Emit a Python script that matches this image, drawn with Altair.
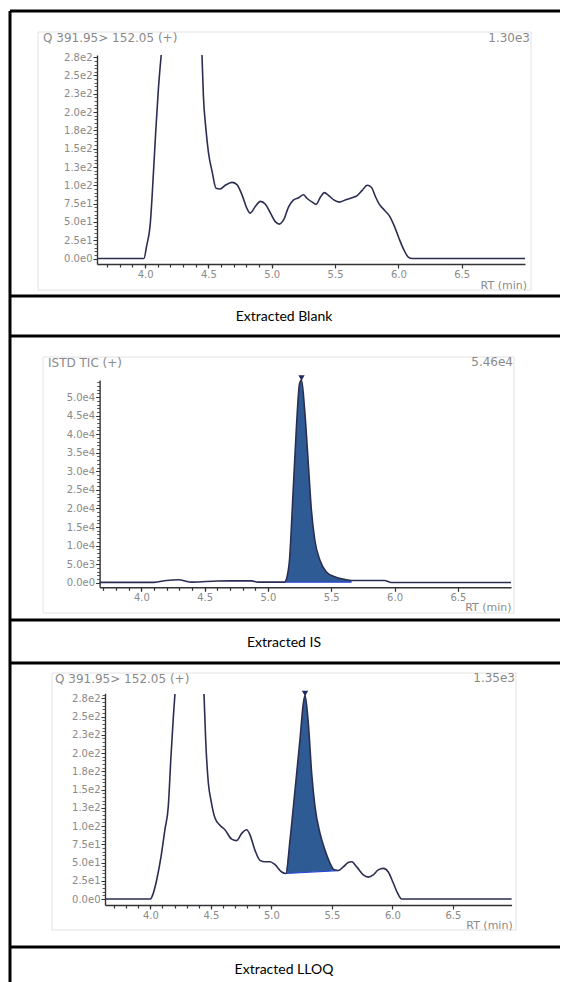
import altair as alt
import pandas as pd

# ---------------- data ----------------
# Extracted Blank, Q 391.95>152.05 (+); trace leaves the scale at the top between the two segments
blank_t_left = [3.62, 3.99, 4.013, 4.04, 4.066, 4.085, 4.105, 4.127]
blank_v_left = [0, 0, 18, 46, 118, 177, 232, 278]
blank_t_right = [4.449, 4.46, 4.48, 4.50, 4.53, 4.56, 4.593, 4.633, 4.686, 4.725, 4.765, 4.805,
                 4.83, 4.87, 4.91, 4.95, 4.99, 5.03, 5.06, 5.094, 5.134, 5.173, 5.213, 5.25,
                 5.28, 5.32, 5.35, 5.385, 5.416, 5.45, 5.49, 5.535, 5.58, 5.635, 5.675, 5.714,
                 5.754, 5.788, 5.82, 5.85, 5.89, 5.93, 5.964, 6.004, 6.043, 6.078, 6.11, 7.0]
blank_v_right = [278, 223, 177, 145, 118, 96, 95, 100, 104, 101, 87, 68,
                 62, 71, 78, 74, 62, 50, 47, 53, 71, 80, 83, 87,
                 82, 77, 74, 84, 90, 86, 80, 77, 80, 83, 86, 93,
                 100, 97, 84, 74, 66, 58, 46, 28, 12, 2, 0, 0]

# Extracted IS, ISTD TIC (+)
is_t = [3.67, 4.10, 4.20, 4.29, 4.40, 4.60, 4.70, 4.87, 4.92, 5.13, 5.15, 5.17, 5.198, 5.225,
        5.25, 5.265, 5.29, 5.317, 5.343, 5.37, 5.41, 5.46, 5.527, 5.606, 5.66, 5.92, 5.975, 6.92]
is_v = [100, 100, 600, 800, 150, 450, 500, 480, 150, 150, 1500, 6100, 24000, 42000,
        53700, 54600, 46500, 33000, 19600, 11500, 6100, 2960, 1600, 900, 600, 600, 50, 50]
is_base_t = [5.13, 5.66]
is_base_v = [150, 150]
is_apex_t = [5.265]
is_apex_v = [54600]

# Extracted LLOQ, Q 391.95>152.05 (+)
lloq_t_left = [3.625, 4.0, 4.024, 4.052, 4.088, 4.12, 4.148, 4.17, 4.19, 4.203]
lloq_v_left = [0, 0, 8, 26, 58, 95, 127, 195, 250, 281]
lloq_t_right = [4.443, 4.457, 4.479, 4.50, 4.534, 4.575, 4.616, 4.672, 4.713, 4.755, 4.796,
                4.823, 4.864, 4.906, 4.947, 4.988, 5.03, 5.085, 5.12, 5.154, 5.195, 5.236,
                5.264, 5.278, 5.305, 5.333, 5.36, 5.402, 5.443, 5.485, 5.52, 5.553, 5.594,
                5.635, 5.664, 5.705, 5.76, 5.80, 5.842, 5.883, 5.925, 5.966, 6.007, 6.043,
                6.077, 6.985]
lloq_v_right = [281, 218, 159, 136, 111, 101, 95, 82, 80, 90, 95,
                88, 67, 53, 51, 51, 47, 37, 35, 81, 149, 218,
                268, 279, 241, 172, 127, 90, 67, 49, 40, 39, 44,
                50, 51, 44, 33, 30, 33, 40, 42, 37, 22, 8,
                0, 0]
lloq_base_t = [5.12, 5.553]
lloq_base_v = [35, 39]
lloq_apex_t = [5.278]
lloq_apex_v = [279]

# axis ticks
x_major = [4.0, 4.5, 5.0, 5.5, 6.0, 6.5]
x_minor = [round(3.6 + 0.1 * i, 1) for i in range(1, 15)]
y_major_q = [0, 25, 50, 75, 100, 125, 150, 175, 200, 225, 250, 275]
y_minor_q = list(range(0, 285, 5))
y_major_is = [0, 5000, 10000, 15000, 20000, 25000, 30000, 35000, 40000, 45000, 50000]
y_minor_is = list(range(0, 55000, 1000))

titles = ["Q 391.95> 152.05 (+)", "ISTD TIC (+)", "Q 391.95> 152.05 (+)"]
maxima = ["1.30e3", "5.46e4", "1.35e3"]
captions = ["Extracted Blank", "Extracted IS", "Extracted LLOQ"]

# ---------------- styling ----------------
W, H = 552, 974
LINE = "#2b2e52"
FILL = "#2f5b94"
BASE = "#2a48d6"
TXT = "#8a8a8a"
AX = "#333333"
FONT = "DejaVu Sans"
CAPFONT = "Lato"
ONE = pd.DataFrame({"d": [0]})
YEXPR = "replace(format(datum.value, '.1e'), '+', '')"


def seg_df(parts):
    rows = []
    for k, (ts, vs) in enumerate(parts):
        for t, v in zip(ts, vs):
            rows.append({"t": t, "v": v, "seg": k})
    return pd.DataFrame(rows)


def text(txt, x, y, size, color=TXT, align="left", font=FONT):
    return alt.Chart(ONE).mark_text(text=txt, align=align, baseline="middle", fontSize=size,
                                    color=color, font=font).encode(x=alt.value(x), y=alt.value(y))


def hline(y, x0, x1, color="black", width=3):
    return alt.Chart(ONE).mark_rule(color=color, strokeWidth=width).encode(
        x=alt.value(x0), x2=alt.value(x1), y=alt.value(y))


def vline(x, y0, y1, color="black", width=3):
    return alt.Chart(ONE).mark_rule(color=color, strokeWidth=width).encode(
        x=alt.value(x), y=alt.value(y0), y2=alt.value(y1))


def frame(x0, x1, y0, y1):
    return alt.Chart(ONE).mark_rect(fillOpacity=0, stroke="#e2e2e2", strokeWidth=1).encode(
        x=alt.value(x0), x2=alt.value(x1), y=alt.value(y0), y2=alt.value(y1))


def panel(df, xdom, xrng, ydom, yrng, ymaj, ymin, fill_df=None, fill_base=None,
          base_df=None, apex_df=None):
    xs = alt.Scale(domain=xdom, range=xrng, nice=False, zero=False)
    ys = alt.Scale(domain=ydom, range=yrng, nice=False, zero=False)
    xoff = yrng[0] - H
    yoff = -xrng[0]
    xmin_vals = [v for v in x_minor if xdom[0] <= v <= xdom[1]]
    xa = alt.Axis(orient="bottom", offset=xoff, values=x_major, format=".1f", title=None,
                  grid=False, labelFont=FONT, labelFontSize=10, labelColor=TXT, labelPadding=1,
                  tickSize=4, tickColor=AX, tickWidth=1.2, domainColor=AX, domainWidth=1.4,
                  labelFlush=False, labelOverlap=False)
    ya = alt.Axis(orient="left", offset=yoff, values=ymaj, labelExpr=YEXPR, title=None,
                  grid=False, labelFont=FONT, labelFontSize=10, labelColor=TXT, labelPadding=1,
                  tickSize=4, tickColor=AX, tickWidth=1, domainColor=AX, domainWidth=1.4,
                  labelOverlap=False, labelFlush=False)
    xa2 = alt.Axis(orient="bottom", offset=xoff, values=xmin_vals, labels=False, domain=False,
                   title=None, grid=False, tickSize=3, tickColor=AX, tickWidth=1.2)
    ya2 = alt.Axis(orient="left", offset=yoff, values=ymin, labels=False, domain=False,
                   title=None, grid=False, tickSize=3, tickColor=AX, tickWidth=0.8)
    layers = []
    if fill_df is not None:
        layers.append(alt.Chart(fill_df).transform_calculate(base=fill_base).mark_area(
            color=FILL, interpolate="monotone", opacity=1).encode(
            x=alt.X("t:Q", scale=xs, axis=None), y=alt.Y("v:Q", scale=ys, axis=None),
            y2="base:Q"))
    if base_df is not None:
        layers.append(alt.Chart(base_df).mark_line(color=BASE, strokeWidth=1.2).encode(
            x=alt.X("t:Q", scale=xs, axis=None), y=alt.Y("v:Q", scale=ys, axis=None)))
    layers.append(alt.Chart(df).mark_line(color=LINE, strokeWidth=1.6, interpolate="monotone").encode(
        x=alt.X("t:Q", scale=xs, axis=xa), y=alt.Y("v:Q", scale=ys, axis=ya), detail="seg:N"))
    layers.append(alt.Chart(df).mark_line(opacity=0).encode(
        x=alt.X("t:Q", scale=xs, axis=xa2), y=alt.Y("v:Q", scale=ys, axis=ya2), detail="seg:N"))
    if apex_df is not None:
        layers.append(alt.Chart(apex_df).mark_point(shape="triangle-down", filled=True, size=40,
                                                    color="#1f2b5e", opacity=1, yOffset=-2).encode(
            x=alt.X("t:Q", scale=xs, axis=None), y=alt.Y("v:Q", scale=ys, axis=None)))
    return layers


blank_df = seg_df([(blank_t_left, blank_v_left), (blank_t_right, blank_v_right)])
is_df = seg_df([(is_t, is_v)])
lloq_df = seg_df([(lloq_t_left, lloq_v_left), (lloq_t_right, lloq_v_right)])

is_fill = pd.DataFrame({"t": is_t, "v": is_v})
is_fill = is_fill[(is_fill.t >= is_base_t[0]) & (is_fill.t <= is_base_t[1])]
is_base_expr = f"{is_base_v[0]} + (datum.t - {is_base_t[0]}) * ({is_base_v[1]} - {is_base_v[0]}) / ({is_base_t[1]} - {is_base_t[0]})"

lloq_fill = pd.DataFrame({"t": lloq_t_right, "v": lloq_v_right})
lloq_fill = lloq_fill[(lloq_fill.t >= lloq_base_t[0]) & (lloq_fill.t <= lloq_base_t[1])]
lloq_base_expr = f"{lloq_base_v[0]} + (datum.t - {lloq_base_t[0]}) * ({lloq_base_v[1]} - {lloq_base_v[0]}) / ({lloq_base_t[1]} - {lloq_base_t[0]})"

layers = []
# table lines
layers += [hline(3, 2, W), vline(2, 3, H), hline(288, 2, W), hline(328, 2, W),
           hline(612, 2, W), hline(655, 2, W), hline(939, 2, W)]
# frames
layers += [frame(30, 523, 24, 282), frame(35, 506, 349, 605), frame(44, 508, 665, 922)]

# panel 1: blank
layers += panel(blank_df, [3.62, 7.0], [89, 517], [-7.5, 278], [256, 47], y_major_q, y_minor_q)
layers += [text(titles[0], 35, 30, 12), text(maxima[0], 522, 30, 12, align="right"),
           text("RT (min)", 519, 278, 11, align="right")]

# panel 2: IS
layers += panel(is_df, [3.67, 6.92], [91.6, 503], [-1240, 54600], [579.3, 372], y_major_is,
                y_minor_is, fill_df=is_fill, fill_base=is_base_expr,
                base_df=pd.DataFrame({"t": is_base_t, "v": is_base_v}),
                apex_df=pd.DataFrame({"t": is_apex_t, "v": is_apex_v}))
layers += [text(titles[1], 40, 355, 12), text(maxima[1], 505, 354, 12, align="right"),
           text("RT (min)", 503.6, 600, 11, align="right")]

# panel 3: LLOQ
layers += panel(lloq_df, [3.625, 6.985], [97, 503.6], [-8.2, 281.9], [897, 685.3], y_major_q,
                y_minor_q, fill_df=lloq_fill, fill_base=lloq_base_expr,
                base_df=pd.DataFrame({"t": lloq_base_t, "v": lloq_base_v}),
                apex_df=pd.DataFrame({"t": lloq_apex_t, "v": lloq_apex_v}))
layers += [text(titles[2], 47, 671, 12), text(maxima[2], 507, 670, 12, align="right"),
           text("RT (min)", 504.7, 918, 11, align="right")]

# captions
layers += [text(captions[0], 276, 309, 14, color="black", align="center", font=CAPFONT),
           text(captions[1], 276, 635, 14, color="black", align="center", font=CAPFONT),
           text(captions[2], 276, 962, 14, color="black", align="center", font=CAPFONT)]

chart = alt.layer(*layers).properties(
    width=W, height=H, padding=0, autosize=alt.AutoSizeParams(type="none")
).resolve_scale(x="independent", y="independent").resolve_axis(
    x="independent", y="independent").configure_view(stroke=None)

chart.save("out.html", embed_options={"renderer": "svg", "actions": False})
